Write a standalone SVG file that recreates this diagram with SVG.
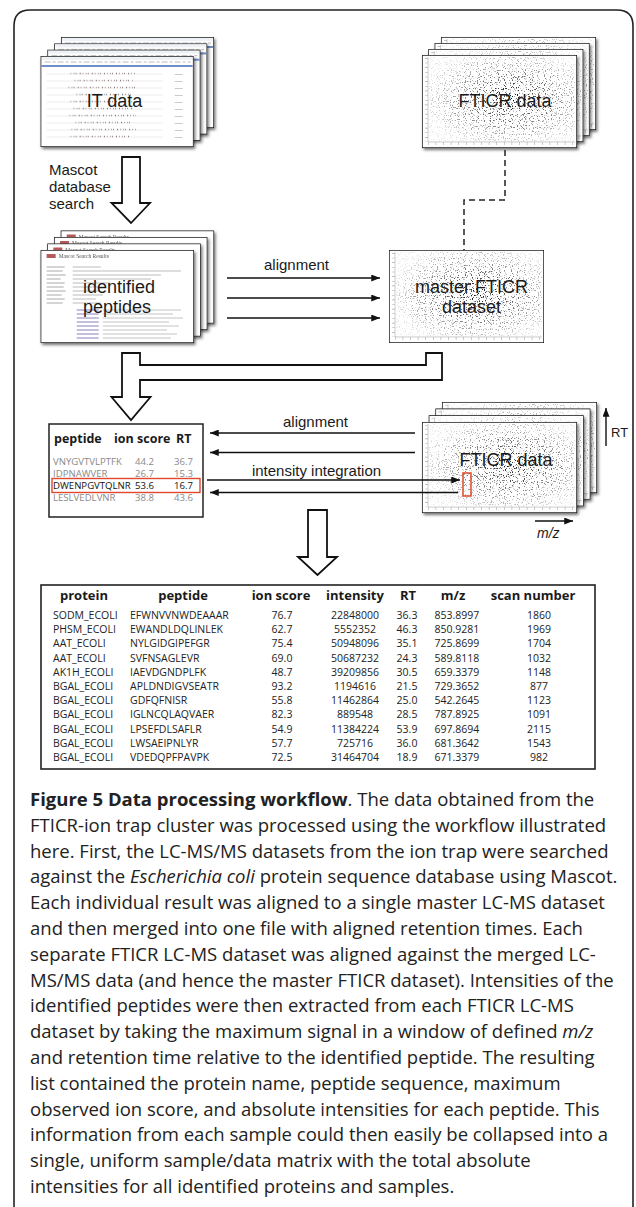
<svg xmlns="http://www.w3.org/2000/svg" xmlns:xlink="http://www.w3.org/1999/xlink" width="636" height="1207" viewBox="0 0 636 1207">
<style>
.lbl{font-family:"Liberation Sans",Arial,sans-serif;fill:#1a1a1a}
.big{font-size:18px}
.mid{font-size:15px}
.th{font-family:"Open Sans",sans-serif;font-weight:700;font-size:13px;fill:#1a1a1a}
.th2{font-family:"Open Sans",sans-serif;font-weight:700;font-size:12.5px;fill:#1a1a1a}
.td{font-family:"Open Sans",sans-serif;font-size:10.5px;fill:#222}
.pt{font-family:"Open Sans",sans-serif;font-size:9.6px;fill:#8a8a8a}
.cap{font-family:"Open Sans",sans-serif;font-size:18.5px;fill:#222}
.ln{stroke:#111;stroke-width:1.4;fill:none}
.hollow{fill:#fff;stroke:#111;stroke-width:1.8}
.tiny{font-family:"Liberation Serif",serif;font-size:5.5px;fill:#555}
.sh{filter:url(#shadow)}
</style>
<defs>
<filter id="shadow" x="-10%" y="-10%" width="125%" height="130%">
<feDropShadow dx="1.5" dy="2" stdDeviation="1.8" flood-color="#000" flood-opacity="0.55"/>
</filter>
<filter id="speckle" x="0" y="0" width="1" height="1">
<feTurbulence type="fractalNoise" baseFrequency="0.85" numOctaves="1" seed="7" result="n"/>
<feColorMatrix in="n" type="matrix" values="0 0 0 0 0 0 0 0 0 0 0 0 0 0 0 9 0 0 0 -5.1" result="d"/>
<feComposite in="SourceGraphic" in2="d" operator="in"/>
</filter>
<radialGradient id="spk" cx="0.55" cy="0.5" r="0.6">
<stop offset="0" stop-color="#000" stop-opacity="0.95"/>
<stop offset="0.55" stop-color="#000" stop-opacity="0.5"/>
<stop offset="1" stop-color="#000" stop-opacity="0.1"/>
</radialGradient>
<marker id="ah" viewBox="0 0 10 8" refX="10" refY="4" markerWidth="10" markerHeight="7" orient="auto" markerUnits="userSpaceOnUse">
<path d="M0,0 L10,4 L0,8 Z" fill="#111"/>
</marker>
<symbol id="ft" viewBox="0 0 155 92" preserveAspectRatio="none">
<rect width="155" height="92" fill="#fff"/>
<rect x="7" y="2" width="146" height="83" fill="url(#spk)" filter="url(#speckle)"/>
<path d="M6,2 V86 H153" fill="none" stroke="#999" stroke-width="0.5"/>
<line x1="4.5" y1="3" x2="4.5" y2="86" stroke="#aaa" stroke-width="3" stroke-dasharray="0.6 4"/>
<line x1="6" y1="87.5" x2="153" y2="87.5" stroke="#aaa" stroke-width="3" stroke-dasharray="0.6 7"/>
<rect width="155" height="92" fill="none" stroke="#111" stroke-width="1.4"/>
</symbol>
<symbol id="it" viewBox="0 0 153 91" preserveAspectRatio="none">
<rect width="153" height="91" fill="#fff"/>
<rect x="1" y="1" width="151" height="3" fill="#eef1f6"/>
<line x1="4" y1="6" x2="150" y2="6" stroke="#bbb" stroke-width="1" stroke-dasharray="6 2 3 2"/>
<rect x="1" y="9" width="151" height="2" fill="#6f8fc9"/>
<path d="M6,18H122M6,25H122M6,32H122M6,39H122M6,46H122M6,53H122M6,60H122M6,67H122M6,74H122M6,81H122" stroke="#e0e0e0" stroke-width="0.6"/>
<path d="M30,17.5H95M34,24.5H92M28,31.5H96M36,38.5H90M30,45.5H98M33,52.5H93M29,59.5H95M35,66.5H91M31,73.5H96M30,80.5H90" stroke="#8a7878" stroke-width="1.6" stroke-dasharray="0.6 2.5 0.6 1.4 0.8 3.2 1 2"/>
<line x1="138" y1="18" x2="138" y2="84" stroke="#bbb" stroke-width="8" stroke-dasharray="0.7 6.3"/>
<rect width="153" height="91" fill="none" stroke="#111" stroke-width="1.4"/>
</symbol>
<symbol id="ms" viewBox="0 0 153 93" preserveAspectRatio="none">
<rect width="153" height="93" fill="#fff"/>
<rect x="6" y="4" width="9" height="4" fill="#b55a5a"/>
<text x="18" y="8.5" class="tiny">Mascot Search Results</text>
<path d="M6,17H24M6,21H22M6,25H25M6,29H20M6,33H24M6,37H23M6,41H25M6,45H21M6,49H24M6,53H22" stroke="#aaa" stroke-width="1"/>
<path d="M32,17H60M32,21H140M32,25H120M32,29H110M32,33H70M32,37H64M32,41H58M32,45H62M32,49H55M32,53H60" stroke="#bbb" stroke-width="1"/>
<path d="M36,60H58M36,64H58M36,68H58M36,72H58M36,76H58M36,80H58M36,84H58M36,88H58" stroke="#8a80c0" stroke-width="1"/>
<path d="M62,60H140M62,64H132M62,68H142M62,72H128M62,76H138M62,80H126M62,84H136M62,88H130" stroke="#c4c4c4" stroke-width="1"/>
<rect width="153" height="93" fill="none" stroke="#111" stroke-width="1.4"/>
</symbol>
</defs>

<rect width="636" height="1207" fill="#fff"/>
<path id="frame" d="M14,1210 V26 Q14,10 30,10 H617 Q633,10 633,26 V1210" fill="none" stroke="#222" stroke-width="1.6"/>

<g id="it-data">
<use xlink:href="#it" href="#it" x="61" y="37" width="153" height="91" class="sh"/>
<use xlink:href="#it" href="#it" x="54.2" y="43.4" width="153" height="91" class="sh"/>
<use xlink:href="#it" href="#it" x="47.4" y="49.7" width="153" height="91" class="sh"/>
<use xlink:href="#it" href="#it" x="40.6" y="56" width="153" height="91" class="sh"/>
<text x="114.5" y="107" class="lbl big" text-anchor="middle">IT data</text>
</g>

<g id="fticr-data-top">
<use xlink:href="#ft" href="#ft" x="441" y="37" width="155" height="93" class="sh"/>
<use xlink:href="#ft" href="#ft" x="434.6" y="43" width="155" height="93" class="sh"/>
<use xlink:href="#ft" href="#ft" x="428.3" y="49" width="155" height="93" class="sh"/>
<use xlink:href="#ft" href="#ft" x="422" y="55" width="155" height="93" class="sh"/>
<text x="505" y="107" class="lbl big" text-anchor="middle">FTICR data</text>
</g>

<g id="identified-peptides">
<use xlink:href="#ms" href="#ms" x="60.7" y="230.5" width="153.4" height="93" class="sh"/>
<use xlink:href="#ms" href="#ms" x="54" y="237" width="153.4" height="93" class="sh"/>
<use xlink:href="#ms" href="#ms" x="47.3" y="243.5" width="153.4" height="93" class="sh"/>
<use xlink:href="#ms" href="#ms" x="40.6" y="250" width="153.4" height="93" class="sh"/>
<text x="83" y="293" class="lbl big">identified</text>
<text x="83" y="313" class="lbl big">peptides</text>
</g>

<g id="master-fticr">
<use xlink:href="#ft" href="#ft" x="389" y="250" width="155" height="93"/>
<text x="471.5" y="293" class="lbl big" text-anchor="middle">master FTICR</text>
<text x="471.5" y="313" class="lbl big" text-anchor="middle">dataset</text>
</g>

<g id="peptide-table">
<rect x="49" y="424" width="154" height="93" fill="#fff" stroke="#222" stroke-width="1.5"/>
<text x="54" y="443" class="th2">peptide</text>
<text x="114" y="443" class="th2">ion score</text>
<text x="176" y="443" class="th2">RT</text>
<text class="pt"><tspan x="53" y="464.5">VNYGVTVLPTFK</tspan><tspan x="53" y="476.8">IDPNAWVER</tspan><tspan x="53" y="501.4">LESLVEDLVNR</tspan></text>
<text class="pt"><tspan x="135" y="464.5">44.2</tspan><tspan x="135" y="476.8">26.7</tspan><tspan x="135" y="501.4">38.8</tspan></text>
<text class="pt" text-anchor="end"><tspan x="193" y="464.5">36.7</tspan><tspan x="193" y="476.8">15.3</tspan><tspan x="193" y="501.4">43.6</tspan></text>
<text class="pt" style="fill:#111"><tspan x="53" y="489.1">DWENPGVTQLNR</tspan><tspan x="135" y="489.1">53.6</tspan></text>
<text class="pt" style="fill:#111" text-anchor="end" x="193" y="489.1">16.7</text>
<rect x="52" y="478.5" width="148" height="14" fill="none" stroke="#e0482d" stroke-width="1.4"/>
</g>

<g id="fticr-data-bottom">
<use xlink:href="#ft" href="#ft" x="442" y="402" width="155" height="91" class="sh"/>
<use xlink:href="#ft" href="#ft" x="435.4" y="408.6" width="155" height="91" class="sh"/>
<use xlink:href="#ft" href="#ft" x="428.7" y="415.3" width="155" height="91" class="sh"/>
<use xlink:href="#ft" href="#ft" x="422" y="422" width="155" height="91" class="sh"/>
<text x="506" y="466" class="lbl big" text-anchor="middle">FTICR data</text>
<rect x="463" y="473" width="8" height="23" fill="none" stroke="#e0482d" stroke-width="1.5"/>
<line x1="606" y1="446" x2="606" y2="408" class="ln" marker-end="url(#ah)"/>
<text x="611" y="437" class="lbl" font-size="13">RT</text>
<line x1="535" y1="521" x2="573" y2="521" class="ln" marker-end="url(#ah)"/>
<text x="537" y="538" class="lbl" font-size="14" font-style="italic">m/z</text>
</g>

<g id="connectors">
<path d="M122,157 H140 V203 H150 L131,223 L111.5,203 H122 Z" class="hollow"/>
<text class="lbl mid"><tspan x="49" y="175">Mascot</tspan><tspan x="49" y="192">database</tspan><tspan x="49" y="209">search</tspan></text>
<text x="296.5" y="270" class="lbl mid" text-anchor="middle">alignment</text>
<line x1="227" y1="278" x2="380" y2="278" class="ln" marker-end="url(#ah)"/>
<line x1="227" y1="298" x2="380" y2="298" class="ln" marker-end="url(#ah)"/>
<line x1="227" y1="318" x2="380" y2="318" class="ln" marker-end="url(#ah)"/>
<path d="M505,150 V200 H464 V250" fill="none" stroke="#222" stroke-width="1.5" stroke-dasharray="6 4"/>
<path d="M122,353 V397 H111.5 L131,420 L150.5,397 H140 V380 H442 V353 H426 V365 H140 V353 Z" class="hollow"/>
<text x="315.5" y="427" class="lbl mid" text-anchor="middle">alignment</text>
<line x1="415" y1="433" x2="210" y2="433" class="ln" marker-end="url(#ah)"/>
<line x1="415" y1="452.5" x2="210" y2="452.5" class="ln" marker-end="url(#ah)"/>
<text x="316.5" y="476" class="lbl mid" text-anchor="middle">intensity integration</text>
<line x1="207" y1="480" x2="460" y2="480" class="ln" marker-end="url(#ah)"/>
<line x1="458" y1="492.5" x2="210" y2="492.5" class="ln" marker-end="url(#ah)"/>
<path d="M308,510 H327 V557 H337 L317.5,575 L298,557 H308 Z" class="hollow"/>
</g>

<g id="result-table">
<rect x="41" y="585" width="554" height="184" fill="#fff" stroke="#222" stroke-width="1.6"/>
<text class="th" text-anchor="middle" y="600"><tspan x="84" y="600">protein</tspan><tspan x="183" y="600">peptide</tspan><tspan x="281" y="600">ion score</tspan><tspan x="355" y="600">intensity</tspan><tspan x="408" y="600">RT</tspan><tspan x="453" y="600">m/z</tspan><tspan x="533" y="600">scan number</tspan></text>
<text class="td"><tspan x="53" y="619">SODM_ECOLI</tspan><tspan x="53" y="633.2">PHSM_ECOLI</tspan><tspan x="53" y="647.4">AAT_ECOLI</tspan><tspan x="53" y="661.6">AAT_ECOLI</tspan><tspan x="53" y="675.8">AK1H_ECOLI</tspan><tspan x="53" y="690">BGAL_ECOLI</tspan><tspan x="53" y="704.2">BGAL_ECOLI</tspan><tspan x="53" y="718.4">BGAL_ECOLI</tspan><tspan x="53" y="732.6">BGAL_ECOLI</tspan><tspan x="53" y="746.8">BGAL_ECOLI</tspan><tspan x="53" y="761">BGAL_ECOLI</tspan></text>
<text class="td"><tspan x="130" y="619">EFWNVVNWDEAAAR</tspan><tspan x="130" y="633.2">EWANDLDQLINLEK</tspan><tspan x="130" y="647.4">NYLGIDGIPEFGR</tspan><tspan x="130" y="661.6">SVFNSAGLEVR</tspan><tspan x="130" y="675.8">IAEVDGNDPLFK</tspan><tspan x="130" y="690">APLDNDIGVSEATR</tspan><tspan x="130" y="704.2">GDFQFNISR</tspan><tspan x="130" y="718.4">IGLNCQLAQVAER</tspan><tspan x="130" y="732.6">LPSEFDLSAFLR</tspan><tspan x="130" y="746.8">LWSAEIPNLYR</tspan><tspan x="130" y="761">VDEDQPFPAVPK</tspan></text>
<text class="td" text-anchor="middle"><tspan x="282" y="619">76.7</tspan><tspan x="282" y="633.2">62.7</tspan><tspan x="282" y="647.4">75.4</tspan><tspan x="282" y="661.6">69.0</tspan><tspan x="282" y="675.8">48.7</tspan><tspan x="282" y="690">93.2</tspan><tspan x="282" y="704.2">55.8</tspan><tspan x="282" y="718.4">82.3</tspan><tspan x="282" y="732.6">54.9</tspan><tspan x="282" y="746.8">57.7</tspan><tspan x="282" y="761">72.5</tspan></text>
<text class="td" text-anchor="middle"><tspan x="355" y="619">22848000</tspan><tspan x="355" y="633.2">5552352</tspan><tspan x="355" y="647.4">50948096</tspan><tspan x="355" y="661.6">50687232</tspan><tspan x="355" y="675.8">39209856</tspan><tspan x="355" y="690">1194616</tspan><tspan x="355" y="704.2">11462864</tspan><tspan x="355" y="718.4">889548</tspan><tspan x="355" y="732.6">11384224</tspan><tspan x="355" y="746.8">725716</tspan><tspan x="355" y="761">31464704</tspan></text>
<text class="td" text-anchor="middle"><tspan x="407" y="619">36.3</tspan><tspan x="407" y="633.2">46.3</tspan><tspan x="407" y="647.4">35.1</tspan><tspan x="407" y="661.6">24.3</tspan><tspan x="407" y="675.8">30.5</tspan><tspan x="407" y="690">21.5</tspan><tspan x="407" y="704.2">25.0</tspan><tspan x="407" y="718.4">28.5</tspan><tspan x="407" y="732.6">53.9</tspan><tspan x="407" y="746.8">36.0</tspan><tspan x="407" y="761">18.9</tspan></text>
<text class="td" text-anchor="middle"><tspan x="457" y="619">853.8997</tspan><tspan x="457" y="633.2">850.9281</tspan><tspan x="457" y="647.4">725.8699</tspan><tspan x="457" y="661.6">589.8118</tspan><tspan x="457" y="675.8">659.3379</tspan><tspan x="457" y="690">729.3652</tspan><tspan x="457" y="704.2">542.2645</tspan><tspan x="457" y="718.4">787.8925</tspan><tspan x="457" y="732.6">697.8694</tspan><tspan x="457" y="746.8">681.3642</tspan><tspan x="457" y="761">671.3379</tspan></text>
<text class="td" text-anchor="middle"><tspan x="539" y="619">1860</tspan><tspan x="539" y="633.2">1969</tspan><tspan x="539" y="647.4">1704</tspan><tspan x="539" y="661.6">1032</tspan><tspan x="539" y="675.8">1148</tspan><tspan x="539" y="690">877</tspan><tspan x="539" y="704.2">1123</tspan><tspan x="539" y="718.4">1091</tspan><tspan x="539" y="732.6">2115</tspan><tspan x="539" y="746.8">1543</tspan><tspan x="539" y="761">982</tspan></text>
</g>

<g id="caption">
<text class="cap" x="30" y="806"><tspan font-weight="700">Figure 5 Data processing workflow</tspan>. The data obtained from the</text>
<text class="cap" x="30" y="831.8">FTICR-ion trap cluster was processed using the workflow illustrated</text>
<text class="cap" x="30" y="857.6">here. First, the LC-MS/MS datasets from the ion trap were searched</text>
<text class="cap" x="30" y="883.4">against the <tspan font-style="italic">Escherichia coli</tspan> protein sequence database using Mascot.</text>
<text class="cap" x="30" y="909.2">Each individual result was aligned to a single master LC-MS dataset</text>
<text class="cap" x="30" y="935">and then merged into one file with aligned retention times. Each</text>
<text class="cap" x="30" y="960.8">separate FTICR LC-MS dataset was aligned against the merged LC-</text>
<text class="cap" x="30" y="986.6">MS/MS data (and hence the master FTICR dataset). Intensities of the</text>
<text class="cap" x="30" y="1012.4">identified peptides were then extracted from each FTICR LC-MS</text>
<text class="cap" x="30" y="1038.2">dataset by taking the maximum signal in a window of defined <tspan font-style="italic">m/z</tspan></text>
<text class="cap" x="30" y="1064">and retention time relative to the identified peptide. The resulting</text>
<text class="cap" x="30" y="1089.8">list contained the protein name, peptide sequence, maximum</text>
<text class="cap" x="30" y="1115.6">observed ion score, and absolute intensities for each peptide. This</text>
<text class="cap" x="30" y="1141.4">information from each sample could then easily be collapsed into a</text>
<text class="cap" x="30" y="1167.2">single, uniform sample/data matrix with the total absolute</text>
<text class="cap" x="30" y="1193">intensities for all identified proteins and samples.</text>
</g>
</svg>
